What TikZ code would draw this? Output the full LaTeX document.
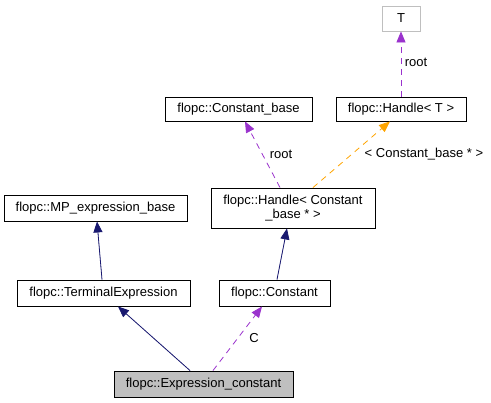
\documentclass[tikz,border=0pt]{standalone}
\usepackage{fontspec}
\setmainfont{Liberation Sans}
\usetikzlibrary{arrows.meta}
\definecolor{navy}{HTML}{191970}
\definecolor{orchid}{HTML}{9A32CD}
\definecolor{orng}{HTML}{FFA500}
\definecolor{gborder}{HTML}{BFBFBF}
\definecolor{gfill}{HTML}{BFBFBF}
\tikzset{
  cls/.style={draw=black, line width=0.9pt, fill=white, inner sep=0pt, align=center, font=\fontsize{13}{14.5}\selectfont},
  inh/.style={draw=navy, line width=0.8pt, -{Triangle[length=11pt,width=9pt]}, fill=navy},
  use/.style={draw=orchid, line width=0.8pt, dash pattern=on 6pt off 5pt, -{Triangle[length=11pt,width=9pt,fill=orchid]}},
  tmpl/.style={draw=orng, line width=0.8pt, dash pattern=on 6pt off 5pt, -{Triangle[length=11pt,width=9pt,fill=orng]}},
  lbl/.style={font=\fontsize{13}{14.5}\selectfont, inner sep=0pt},
}
\begin{document}
\begin{tikzpicture}[x=1pt,y=-1pt]
\useasboundingbox[fill=white] (0,0) rectangle (491,403);
\node[cls, draw=gborder, minimum width=38pt, minimum height=25pt] (T) at (401,18.5) {T};
\node[cls, minimum width=130pt, minimum height=24pt] (HT) at (401,109) {flopc::Handle< T >};
\node[cls, minimum width=147pt, minimum height=24pt] (CB) at (238.5,109) {flopc::Constant\_base};
\node[cls, minimum width=164pt, minimum height=40pt] (HCB) at (293,208) {flopc::Handle< Constant\\\_base * >};
\node[cls, minimum width=183pt, minimum height=26pt] (MP) at (95.5,208) {flopc::MP\_expression\_base};
\node[cls, minimum width=173pt, minimum height=26pt] (TE) at (103.5,293) {flopc::TerminalExpression};
\node[cls, minimum width=111pt, minimum height=26pt] (C) at (274.5,293) {flopc::Constant};
\node[cls, fill=gfill, minimum width=179pt, minimum height=26pt] (EC) at (203.5,384) {flopc::Expression\_constant};

\draw[inh] (TE.north -| 102,0) -- (MP.south -| 97,0);
\draw[inh] (C.north -| 277,0) -- (HCB.south -| 287,0);
\draw[inh] (EC.north -| 190,0) -- (118,306.5);
\draw[use] (EC.north -| 213,0) -- (262,306.5);
\node[lbl] (lC) at (254,338) {C};
\draw[use] (HCB.north -| 280,0) -- (CB.south -| 245,0);
\node[lbl] (lr1) at (281,154) {root};
\draw[tmpl] (HCB.north -| 313,0) -- (HT.south -| 390,0);
\node[lbl] (lcb) at (424,154) {< Constant\_base * >};
\draw[use] (HT.north) -- (T.south);
\node[lbl] (lr2) at (416,62) {root};
\end{tikzpicture}
\end{document}
